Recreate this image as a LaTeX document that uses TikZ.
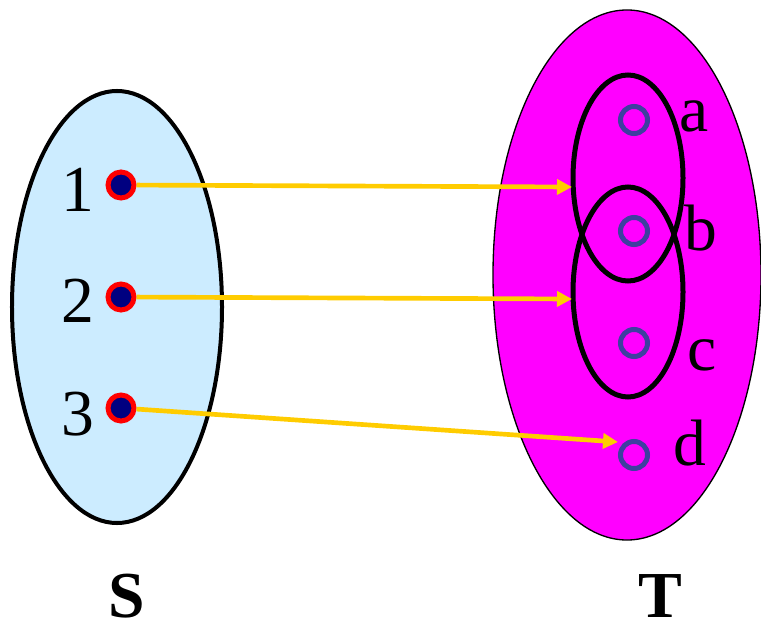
\documentclass[tikz,border=0pt]{standalone}
\usepackage{fontspec}
\setmainfont{Liberation Serif}
\usetikzlibrary{positioning,arrows.meta,shapes.geometric}
\definecolor{celeste}{HTML}{CCECFF}
\definecolor{magenta}{HTML}{FF00FF}
\definecolor{marino}{HTML}{000080}
\definecolor{ambar}{HTML}{FFCC00}
\definecolor{violeta}{HTML}{3F3FA0}

\begin{document}
\begin{tikzpicture}[x=0.03cm, y=-0.03cm, font=\fontsize{56}{64}\selectfont,
      >={Triangle[length=0.45cm, width=0.45cm]},
      conj/.style={ellipse, draw, inner sep=0pt},
      sub/.style={ellipse, draw, line width=0.15cm, inner sep=0pt,
                  minimum width=3.3cm},
      pt/.style={circle, draw=red, fill=marino, line width=0.15cm,
                 inner sep=0pt, minimum size=0.78cm},
      hueco/.style={circle, draw=violeta, line width=0.15cm,
                    inner sep=0pt, minimum size=0.81cm},
      fl/.style={->, draw=ambar, line width=0.14cm},
      nom/.style={anchor=base, inner sep=0pt,
                  font=\fontsize{56}{64}\selectfont\bfseries}]
    \useasboundingbox (0,0) rectangle (761,623);
    % conjuntos
    \node[conj, fill=celeste, line width=0.12cm, minimum width=6.3cm,
          minimum height=12.96cm] (S) at (117,307) {};
    \node[conj, fill=magenta, line width=0.04cm, minimum width=8.04cm,
          minimum height=15.9cm] (T) at (627,275) {};
    \node[sub, minimum height=6.18cm] (arriba) at (628,178) {};
    \node[sub, minimum height=6.3cm] (abajo) at (628,292) {};
    % puntos de S
    \node[pt] (p1) at (121,185) {};
    \node[pt] (p2) at (121,297) {};
    \node[pt] (p3) at (121,408) {};
    \node[anchor=base] (n1) at (78,211) {1};
    \node[anchor=base] (n2) at (78,322) {2};
    \node[anchor=base] (n3) at (78,435) {3};
    % puntos de T
    \node[hueco] (qa) at (634,120) {};
    \node[hueco] (qb) at (634,231) {};
    \node[hueco] (qc) at (634,343) {};
    \node[hueco] (qd) at (634,455) {};
    \node[anchor=base] (la) at (694,132) {a};
    \node[anchor=base] (lb) at (701,250) {b};
    \node[anchor=base] (lc) at (702,370) {c};
    \node[anchor=base] (ld) at (690,465) {d};
    % nombres
    \node[nom] (nS) at (127,617) {S};
    \node[nom] (nT) at (660,617) {T};
    % flechas
    \coordinate (e1) at (572,187);
    \coordinate (e2) at (572,299);
    \coordinate (e3) at (618,442);
    \draw[fl] (p1) -- (e1);
    \draw[fl] (p2) -- (e2);
    \draw[fl] (p3) -- (e3);
  \end{tikzpicture}
\end{document}
